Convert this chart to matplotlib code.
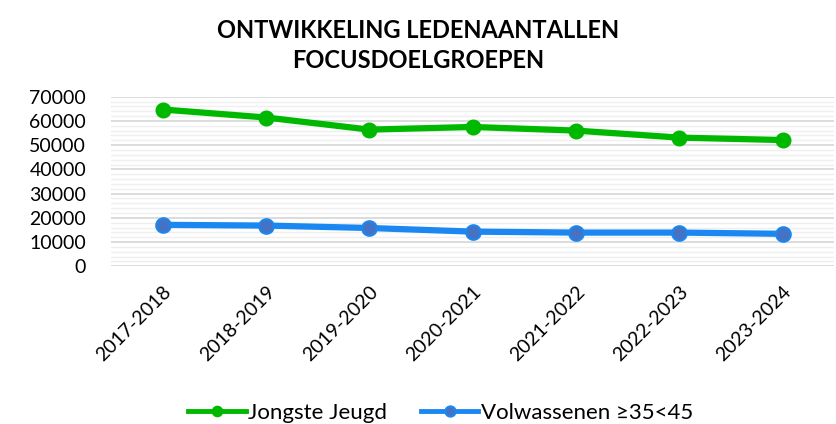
import numpy as np
import matplotlib.pyplot as plt
from matplotlib.ticker import MultipleLocator

seizoenen = ["2017-2018", "2018-2019", "2019-2020", "2020-2021",
             "2021-2022", "2022-2023", "2023-2024"]
jongste_jeugd = [64700, 61400, 56400, 57500, 56000, 53100, 52100]
volwassenen = [17100, 16800, 15800, 14300, 13900, 13900, 13400]

plt.rcParams['font.family'] = ['Lato', 'DejaVu Sans']

fig = plt.figure(figsize=(8.36, 4.24), dpi=100)
ax = fig.add_axes([0.133, 0.372, 0.865, 0.4])

x = np.arange(len(seizoenen))
ax.plot(x, jongste_jeugd, color='#00B800', lw=4.5, marker='o', ms=10.5,
        mfc='#00B800', mec='#00B800', label='Jongste Jeugd', zorder=3)
ax.plot(x, volwassenen, color='#1A88F0', lw=4.5, marker='o', ms=10.5,
        mfc='#4472C4', mec='#1A88F0', mew=1.5, label='Volwassenen ≥35<45', zorder=3)

ax.set_xlim(-0.5, len(seizoenen) - 0.5)
ax.set_ylim(0, 70000)
ax.yaxis.set_major_locator(MultipleLocator(10000))
ax.yaxis.set_minor_locator(MultipleLocator(2000))
ax.grid(which='major', axis='y', color='#d9d9d9', lw=1.3)
ax.grid(which='minor', axis='y', color='#efefef', lw=1.0)
ax.set_axisbelow(True)
for s in ax.spines.values():
    s.set_visible(False)
ax.tick_params(axis='both', which='both', length=0)
ax.tick_params(axis='y', labelsize=14, pad=18)
ax.set_xticks(x)
ax.set_xticklabels(seizoenen, rotation=45, ha='right', rotation_mode='anchor', fontsize=14)
ax.tick_params(axis='x', pad=12)

fig.text(0.5, 0.955, "ONTWIKKELING LEDENAANTALLEN\nFOCUSDOELGROEPEN", ha='center', va='top',
         fontsize=17, fontweight='bold', linespacing=1.35)

leg = fig.legend(loc='lower center', bbox_to_anchor=(0.527, -0.045), ncol=2, frameon=False,
                 fontsize=16, handlelength=2.6, handletextpad=0.1, columnspacing=1.5,
                 markerscale=0.7)
for h in leg.legend_handles:
    h.set_linewidth(3.5)

fig.savefig('out.png', dpi=100)
